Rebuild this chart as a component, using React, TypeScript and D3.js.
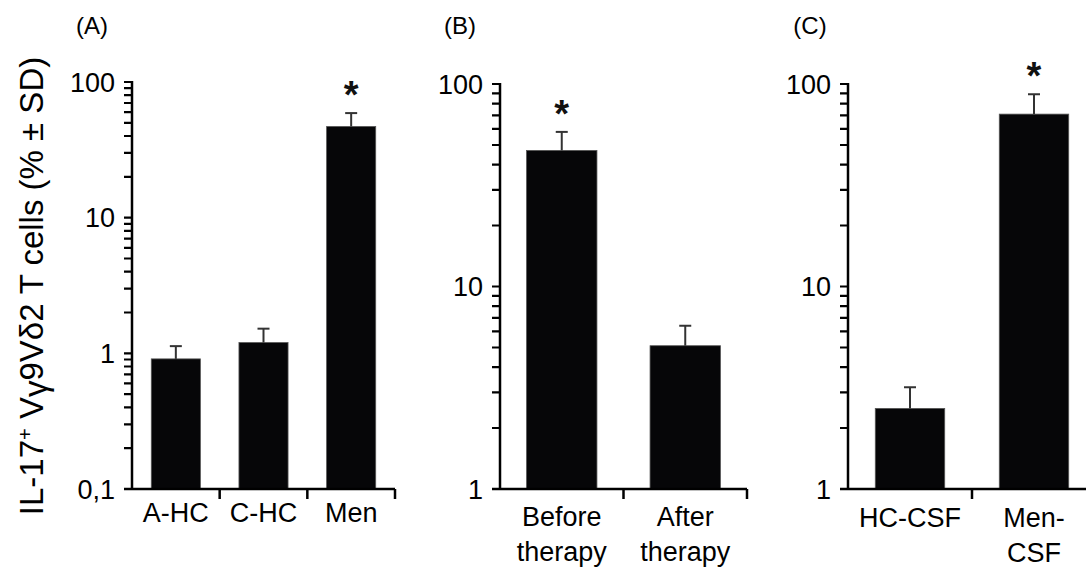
import React from "react";
import * as d3 from "d3";

// panel A
const catsA = [["A-HC"], ["C-HC"], ["Men"]];
const valsA = [0.91, 1.2, 47];
const sdA = [0.22, 0.32, 12];
const sigA = [false, false, true];
const ticksA = [0.1, 1, 10, 100];
const tickLabelsA = ["0,1", "1", "10", "100"];

// panel B
const catsB = [["Before", "therapy"], ["After", "therapy"]];
const valsB = [47, 5.1];
const sdB = [11, 1.3];
const sigB = [true, false];
const ticksB = [1, 10, 100];
const tickLabelsB = ["1", "10", "100"];

// panel C
const catsC = [["HC-CSF"], ["Men-", "CSF"]];
const valsC = [2.5, 71];
const sdC = [0.68, 18];
const sigC = [false, true];
const ticksC = [1, 10, 100];
const tickLabelsC = ["1", "10", "100"];

const FONT = "'Liberation Sans', Arial, Helvetica, sans-serif";

type PanelProps = {
  title: string;
  titleX: number;
  cats: string[][];
  vals: number[];
  sd: number[];
  sig: boolean[];
  ticks: number[];
  tickLabels: string[];
  x0: number;
  x1: number;
  yTop: number;
  yBottom: number;
  padding: number;
  labelY: number;
};

function Panel(p: PanelProps) {
  const y = d3
    .scaleLog()
    .domain([p.ticks[0], p.ticks[p.ticks.length - 1]])
    .range([p.yBottom, p.yTop]);
  const x = d3
    .scaleBand<number>()
    .domain(p.cats.map((_, i) => i))
    .range([p.x0, p.x1])
    .paddingInner(p.padding)
    .paddingOuter(p.padding / 2);
  const step = x.step();

  // minor ticks 1..9 in every decade
  const minor: number[] = [];
  p.ticks.forEach((d, i) => {
    if (i === p.ticks.length - 1) minor.push(d);
    else for (let k = 1; k <= 9; k++) minor.push(d * k);
  });

  // y axis path with ticks drawn as one path (left pointing)
  const tickPath = minor
    .map((t) => `M${p.x0 - 8},${y(t).toFixed(1)}H${p.x0}`)
    .join("");

  return (
    <g>
      <text x={p.titleX} y={34} fontSize={24} textAnchor="middle" fontFamily={FONT}>
        {p.title}
      </text>
      {/* bars */}
      {p.vals.map((v, i) => (
        <rect
          key={"b" + i}
          x={x(i)}
          y={y(v)}
          width={x.bandwidth()}
          height={p.yBottom - y(v)}
          fill="#060608"
          stroke="#555"
          strokeWidth={0.8}
        />
      ))}
      {/* error bars */}
      {p.vals.map((v, i) => {
        const cx = (x(i) as number) + x.bandwidth() / 2;
        const top = y(v + p.sd[i]);
        return (
          <g key={"e" + i} stroke="#333" strokeWidth={2}>
            <line x1={cx} x2={cx} y1={y(v)} y2={top} />
            <line x1={cx - 6} x2={cx + 6} y1={top} y2={top} />
          </g>
        );
      })}
      {/* significance */}
      {p.vals.map((v, i) =>
        p.sig[i] ? (
          <text
            key={"s" + i}
            x={(x(i) as number) + x.bandwidth() / 2}
            y={y(v + p.sd[i]) - 27 + 0.58 * 38}
            fontSize={38}
            fontWeight="bold"
            textAnchor="middle"
            fontFamily={FONT}
            fill="#111"
          >
            *
          </text>
        ) : null
      )}
      {/* y axis */}
      <path d={tickPath} stroke="#000" strokeWidth={2.2} fill="none" />
      <line x1={p.x0} x2={p.x0} y1={p.yTop - 1} y2={p.yBottom} stroke="#000" strokeWidth={2.5} />
      {p.ticks.map((t, i) => (
        <text
          key={"l" + i}
          x={p.x0 - 17}
          y={y(t) + 9.5}
          fontSize={27}
          textAnchor="end"
          fontFamily={FONT}
        >
          {p.tickLabels[i]}
        </text>
      ))}
      {/* x axis */}
      <line x1={p.x0 - 8} x2={p.x1} y1={p.yBottom} y2={p.yBottom} stroke="#000" strokeWidth={2.5} />
      {p.cats.map((_, i) => (
        <line
          key={"xt" + i}
          x1={p.x0 + step * (i + 1)}
          x2={p.x0 + step * (i + 1)}
          y1={p.yBottom}
          y2={p.yBottom + 10}
          stroke="#000"
          strokeWidth={2.5}
        />
      ))}
      {p.cats.map((lines, i) => (
        <text
          key={"c" + i}
          x={(x(i) as number) + x.bandwidth() / 2}
          y={p.labelY}
          fontSize={27}
          textAnchor="middle"
          fontFamily={FONT}
        >
          {lines.map((ln, j) => (
            <tspan key={j} x={(x(i) as number) + x.bandwidth() / 2} dy={j === 0 ? 0 : 35}>
              {ln}
            </tspan>
          ))}
        </text>
      ))}
    </g>
  );
}

export default function App() {
  return (
    <svg
      width={1086}
      height={579}
      style={{ position: "absolute", left: 0, top: 0, background: "#fff" }}
    >
      <text
        transform="translate(43,286) rotate(-90)"
        fontSize={33}
        textAnchor="middle"
        fontFamily={FONT}
      >
        IL-17<tspan dy={-11} fontSize={20}>+</tspan>
        <tspan dy={11}> V</tspan>
        <tspan dy={4}>γ</tspan>
        <tspan dy={-4}>9V</tspan>δ2 T cells (% ± SD)
      </text>
      <Panel
        title="(A)"
        titleX={92}
        cats={catsA}
        vals={valsA}
        sd={sdA}
        sig={sigA}
        ticks={ticksA}
        tickLabels={tickLabelsA}
        x0={132}
        x1={395}
        yTop={82}
        yBottom={489}
        padding={0.44}
        labelY={522}
      />
      <Panel
        title="(B)"
        titleX={460}
        cats={catsB}
        vals={valsB}
        sd={sdB}
        sig={sigB}
        ticks={ticksB}
        tickLabels={tickLabelsB}
        x0={500}
        x1={747}
        yTop={84}
        yBottom={489}
        padding={0.43}
        labelY={526}
      />
      <Panel
        title="(C)"
        titleX={810}
        cats={catsC}
        vals={valsC}
        sd={sdC}
        sig={sigC}
        ticks={ticksC}
        tickLabels={tickLabelsC}
        x0={848}
        x1={1096}
        yTop={84}
        yBottom={489}
        padding={0.44}
        labelY={527}
      />
    </svg>
  );
}
